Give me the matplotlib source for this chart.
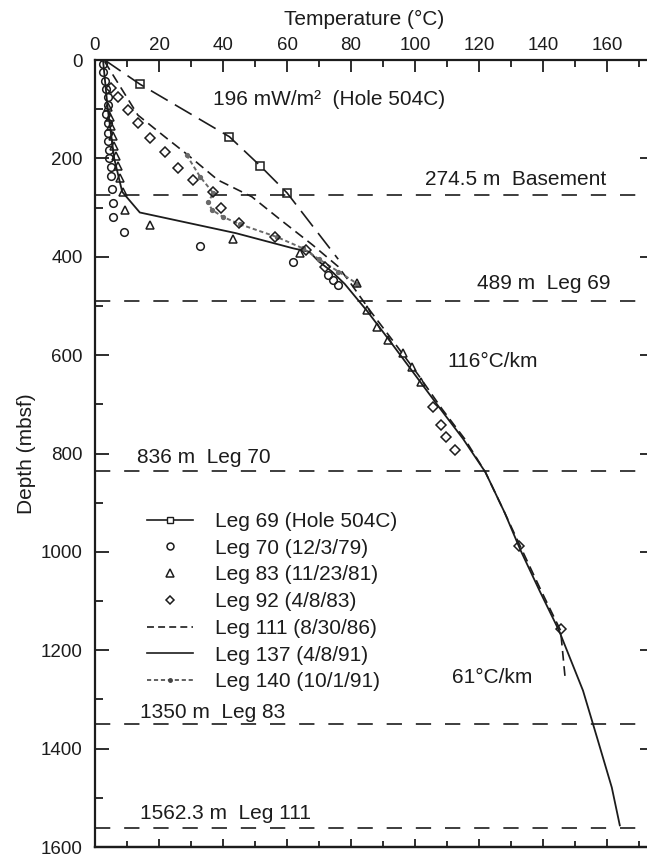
import matplotlib
matplotlib.use("Agg")
import matplotlib.pyplot as plt
from matplotlib.lines import Line2D

plt.rcParams['font.family'] = ['Liberation Sans', 'DejaVu Sans']
plt.rcParams['lines.scale_dashes'] = False

INK = '#1c1c1c'

# ---------------- data ----------------
leg69_T = [3, 14, 42, 51.6, 60, 76]
leg69_D = [0, 49, 156, 215, 270, 405]

leg70_T = [2.5, 2.5, 3, 3.5, 4, 4, 3.5, 4, 4, 4, 4.5, 4.5, 5, 5, 5.3, 5.7, 5.7,
           9.1, 32.8, 62, 72.8, 74.4, 76]
leg70_D = [8, 25, 42, 58, 75, 92, 110, 128, 148, 165, 182, 200, 218, 236, 262, 290, 319,
           350, 378, 410, 437, 448, 458]

leg83_T = [4.2, 4.6, 5, 5.5, 6, 6.6, 7.2, 7.8, 8.8, 9.4, 17.2, 43, 64, 82, 85, 88,
           91.5, 96.2, 99, 102]
leg83_D = [95, 115, 135, 155, 175, 195, 215, 240, 268, 305, 336, 363, 393, 454, 509, 543,
           570, 596, 625, 655]

leg92_T = [5, 7.2, 10.3, 13.4, 17.2, 21.9, 26, 30.6, 36.8, 39.4, 45, 56.3, 66, 72,
           105.6, 108, 109.7, 112.5, 132.5, 145.6]
leg92_D = [57, 75, 102, 128, 159, 187, 219, 244, 268, 301, 331, 360, 387, 421,
           706, 742, 767, 793, 989, 1156]

leg111_T = [3, 13.4, 21.8, 29, 38.4, 49, 58, 68, 76, 80, 86, 93, 101, 108.5, 115.5, 122,
            128, 133.5, 139.5, 145.5, 147]
leg111_D = [3, 112, 156, 193, 244, 278, 325, 376, 420, 455, 510, 570, 640, 710, 770, 838,
            920, 997, 1080, 1160, 1262]

leg137_T = [2.5, 4, 6, 8.5, 14, 44, 62, 67, 70, 74, 78, 85, 92, 100, 108, 115, 122,
            128, 133, 139, 145, 152.5, 157, 161.5, 164]
leg137_D = [0, 100, 200, 268, 310, 352, 383, 390, 410, 430, 455, 510, 570, 640, 710, 770,
            838, 920, 997, 1080, 1160, 1282, 1380, 1479, 1556]

leg140_T = [28.6, 32.8, 37, 35.3, 36.6, 40, 45.3, 56.9, 65, 70, 76, 82]
leg140_D = [193, 237, 271, 289, 305, 319, 334, 360, 383, 405, 430, 455]

ref_depths = [274.5, 489, 836, 1350, 1562.3]
ref_labels = ['274.5 m  Basement', '489 m  Leg 69', '836 m  Leg 70',
              '1350 m  Leg 83', '1562.3 m  Leg 111']

legend_labels = ['Leg 69 (Hole 504C)', 'Leg 70 (12/3/79)', 'Leg 83 (11/23/81)',
                 'Leg 92 (4/8/83)', 'Leg 111 (8/30/86)', 'Leg 137 (4/8/91)',
                 'Leg 140 (10/1/91)']

# ---------------- figure ----------------
W, H = 647, 858
fig = plt.figure(figsize=(W / 100, H / 100), dpi=100)
ax = fig.add_axes([95 / W, 1 - 847 / H, (647 - 95) / W, (847 - 60) / H])
ax.set_xlim(0, 172.5)
ax.set_ylim(1600, 0)

FS = 15          # annotation / legend text
TFS = 13.5       # tick labels
mk = dict(mfc='none', mec=INK, mew=1.1, ls='none')

# reference depth lines
for d in ref_depths:
    ax.axhline(d, color=INK, lw=1.2, dashes=(11, 10), zorder=1)

# data
ax.plot(leg69_T, leg69_D, color=INK, lw=1.2, dashes=(14, 6))
ax.plot(leg69_T, leg69_D, marker='s', ms=6, markevery=[1, 2, 3, 4], **mk)
ax.plot(leg111_T, leg111_D, color=INK, lw=1.2, dashes=(7, 4))
ax.plot(leg137_T, leg137_D, color=INK, lw=1.3, solid_joinstyle='round')
ax.plot(leg140_T, leg140_D, color='#6a6a6a', lw=1.4, dashes=(3, 2),
        marker='o', ms=2.8, mfc='#6a6a6a', mec='#6a6a6a')
ax.plot(leg70_T, leg70_D, marker='o', ms=5.5, **mk)
ax.plot(leg83_T, leg83_D, marker='^', ms=6, **mk)
ax.plot(leg92_T, leg92_D, marker='D', ms=5.2, **mk)

# annotations
label_T = [103, 119.4, 13, 14, 14]
label_off = [31, 35, 27, 23, 30]
for d, lab, tx, off in zip(ref_depths, ref_labels, label_T, label_off):
    ax.text(tx, d - off, lab, fontsize=FS, color=INK, ha='left', va='center')
ax.text(36.9, 81, '196 mW/m²  (Hole 504C)', fontsize=FS, color=INK, va='center')
ax.text(110, 612, '116°C/km', fontsize=FS, color=INK, va='center')
ax.text(111.5, 1255, '61°C/km', fontsize=FS, color=INK, va='center')

# legend
handles = [
    Line2D([], [], color=INK, lw=1.2, marker='s', ms=5, mfc='white', mec=INK, mew=1),
    Line2D([], [], marker='o', ms=5, **mk),
    Line2D([], [], marker='^', ms=5.5, **mk),
    Line2D([], [], marker='D', ms=4.5, **mk),
    Line2D([], [], color=INK, lw=1.2, dashes=(5, 3)),
    Line2D([], [], color=INK, lw=1.2),
    Line2D([], [], color='#444444', lw=1.2, dashes=(3, 2), marker='o', ms=2.5,
           markevery=[0, 1], mfc='#444444', mec='#444444'),
]
leg = ax.legend(handles, legend_labels, loc='upper left', frameon=False,
                bbox_to_anchor=(147 / W, 1 - 512 / H), bbox_transform=fig.transFigure,
                fontsize=FS, handlelength=2.2, handletextpad=1.05, labelspacing=0.37,
                borderpad=0, borderaxespad=0)
for t in leg.get_texts():
    t.set_color(INK)

# axes styling
for s in ['left', 'top', 'bottom']:
    ax.spines[s].set_linewidth(1.6)
    ax.spines[s].set_color(INK)
ax.spines['right'].set_visible(False)

ax.xaxis.tick_top()
ax.set_xticks(range(0, 161, 20))
ax.set_xticks(range(10, 171, 10), minor=True)
ax.tick_params(axis='x', which='major', direction='in', length=8.5, width=1.3,
               labelsize=TFS, pad=4, colors=INK, top=True, bottom=False)
ax.tick_params(axis='x', which='minor', direction='in', length=5, width=1.3,
               top=True, bottom=False, colors=INK)

ax.set_yticks(range(0, 1601, 200))
ax.set_yticks(range(100, 1600, 200), minor=True)
ax.tick_params(axis='y', which='major', direction='in', length=10, width=1.3,
               labelsize=TFS, pad=9, colors=INK, left=True, right=False)
ax.tick_params(axis='y', which='minor', direction='in', length=6, width=1.3,
               left=True, right=False, colors=INK)

# bottom ticks (no labels)
sb = ax.secondary_xaxis('bottom')
sb.set_xticks(range(0, 161, 20))
sb.set_xticks(range(10, 171, 10), minor=True)
sb.tick_params(axis='x', which='major', direction='in', length=6, width=1.3,
               labelbottom=False, colors=INK)
sb.tick_params(axis='x', which='minor', direction='in', length=4, width=1.3, colors=INK)
sb.spines['bottom'].set_linewidth(1.6)
sb.spines['bottom'].set_color(INK)

# right ticks (no spine, no labels)
sr = ax.secondary_yaxis('right')
sr.set_yticks(range(200, 1601, 200))
sr.tick_params(axis='y', which='major', direction='in', length=5, width=1.3,
               labelright=False, colors=INK)
sr.spines['right'].set_visible(False)

ax.set_ylabel('Depth (mbsf)', fontsize=FS, color=INK, labelpad=3)
fig.text(364 / W, 1 - 19 / H, 'Temperature (°C)', fontsize=FS, color=INK,
         ha='center', va='center')

fig.savefig('out.png', dpi=100, facecolor='white')
